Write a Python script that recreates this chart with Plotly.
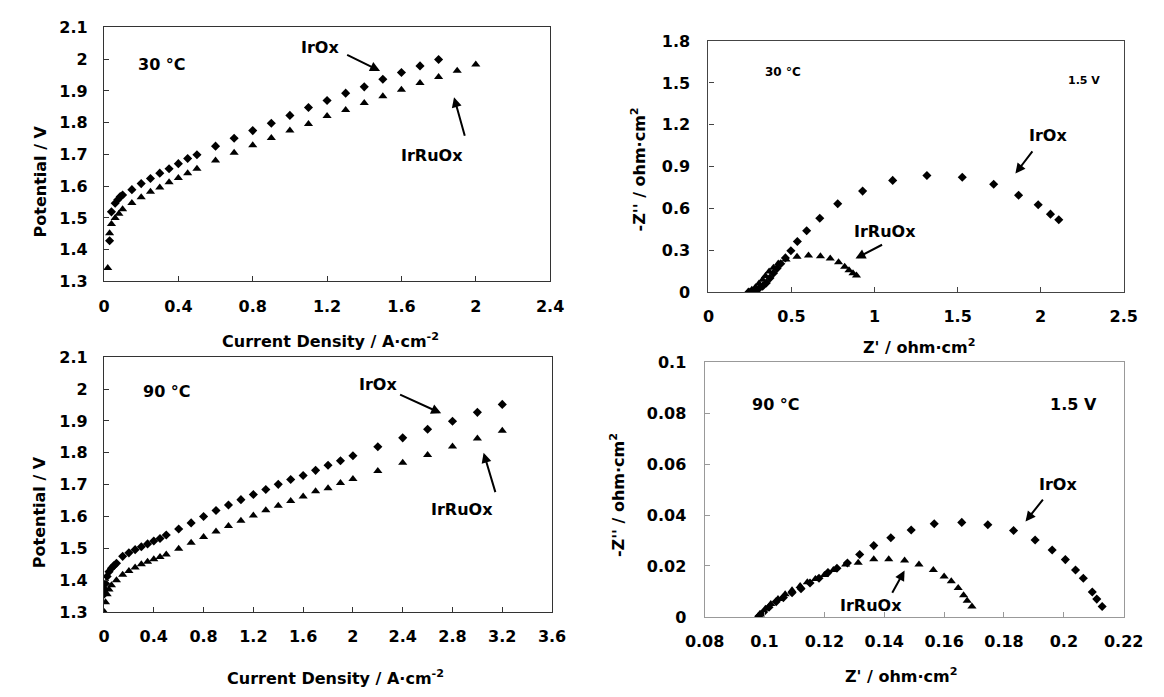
import plotly.graph_objects as go

# ---- Polarization curves, 30 °C ----
j30_irox = [0.03, 0.04, 0.06, 0.074, 0.087, 0.10, 0.15, 0.2, 0.25, 0.3, 0.35, 0.4, 0.45, 0.5,
            0.6, 0.7, 0.8, 0.9, 1.0, 1.1, 1.2, 1.3, 1.4, 1.5, 1.6, 1.7, 1.8]
v30_irox = [1.428, 1.519, 1.546, 1.557, 1.567, 1.572, 1.589, 1.608, 1.624, 1.641, 1.655, 1.671, 1.687, 1.699,
            1.726, 1.751, 1.775, 1.798, 1.823, 1.848, 1.870, 1.893, 1.913, 1.937, 1.958, 1.979, 1.999]
j30_irru = [0.02, 0.03, 0.04, 0.06, 0.08, 0.10, 0.15, 0.2, 0.25, 0.3, 0.35, 0.4, 0.45, 0.5,
            0.6, 0.7, 0.8, 0.9, 1.0, 1.1, 1.2, 1.3, 1.4, 1.5, 1.6, 1.7, 1.8, 1.9, 2.0]
v30_irru = [1.342, 1.452, 1.481, 1.500, 1.513, 1.527, 1.547, 1.565, 1.582, 1.596, 1.612, 1.626, 1.641, 1.655,
            1.681, 1.705, 1.729, 1.752, 1.775, 1.796, 1.821, 1.840, 1.862, 1.883, 1.904, 1.925, 1.944, 1.964, 1.983]

# ---- Polarization curves, 90 °C ----
j90_irox = [0.0, 0.006, 0.012, 0.025, 0.04, 0.06, 0.08, 0.1, 0.15, 0.2, 0.25, 0.3, 0.35, 0.4, 0.45, 0.5,
            0.6, 0.7, 0.8, 0.9, 1.0, 1.1, 1.2, 1.3, 1.4, 1.5, 1.6, 1.7, 1.8, 1.9, 2.0,
            2.2, 2.4, 2.6, 2.8, 3.0, 3.2]
v90_irox = [1.356, 1.371, 1.390, 1.412, 1.427, 1.438, 1.446, 1.453, 1.475, 1.486, 1.496, 1.505, 1.514, 1.523, 1.531, 1.542,
            1.561, 1.580, 1.600, 1.619, 1.636, 1.653, 1.669, 1.685, 1.701, 1.716, 1.729, 1.745, 1.761, 1.775, 1.791,
            1.819, 1.847, 1.874, 1.899, 1.927, 1.952]
j90_irru = [0.003, 0.012, 0.025, 0.04, 0.06, 0.1, 0.15, 0.2, 0.25, 0.3, 0.35, 0.4, 0.45, 0.5,
            0.6, 0.7, 0.8, 0.9, 1.0, 1.1, 1.2, 1.3, 1.4, 1.5, 1.6, 1.7, 1.8, 1.9, 2.0,
            2.2, 2.4, 2.6, 2.8, 3.0, 3.2]
v90_irru = [1.300, 1.331, 1.356, 1.371, 1.384, 1.400, 1.417, 1.429, 1.440, 1.450, 1.458, 1.466, 1.473, 1.481,
            1.499, 1.518, 1.536, 1.553, 1.570, 1.587, 1.603, 1.620, 1.634, 1.649, 1.663, 1.679, 1.689, 1.705, 1.718,
            1.743, 1.769, 1.793, 1.820, 1.845, 1.869]

# ---- Nyquist plots at 1.5 V, 30 °C ----
zr30_irox = [0.243, 0.261, 0.283, 0.304, 0.326, 0.348, 0.370, 0.391, 0.413, 0.435, 0.463, 0.496, 0.535,
             0.591, 0.670, 0.778, 0.928, 1.109, 1.315, 1.528, 1.717, 1.867, 1.985, 2.059, 2.109]
zi30_irox = [0.000, 0.005, 0.012, 0.026, 0.042, 0.065, 0.100, 0.135, 0.170, 0.203, 0.245, 0.296, 0.363,
             0.440, 0.529, 0.633, 0.724, 0.801, 0.836, 0.824, 0.773, 0.694, 0.626, 0.559, 0.519]
zr30_irru = [0.239, 0.261, 0.283, 0.304, 0.326, 0.343, 0.365, 0.391, 0.420, 0.467, 0.533, 0.602,
             0.674, 0.733, 0.783, 0.820, 0.846, 0.870, 0.891]
zi30_irru = [0.002, 0.016, 0.035, 0.061, 0.088, 0.116, 0.147, 0.175, 0.205, 0.233, 0.254, 0.263,
             0.256, 0.240, 0.214, 0.182, 0.156, 0.135, 0.119]

# ---- Nyquist plots at 1.5 V, 90 °C ----
zr90_irox = [0.0981, 0.0997, 0.1015, 0.1039, 0.1063, 0.1092, 0.1122, 0.1152, 0.1182, 0.1212, 0.1242, 0.1277,
             0.1318, 0.1365, 0.1422, 0.1490, 0.1567, 0.1659, 0.1746, 0.1832, 0.1904, 0.1961, 0.2005,
             0.2039, 0.2065, 0.2095, 0.2110, 0.2128]
zi90_irox = [0.0003, 0.0019, 0.0038, 0.0060, 0.0076, 0.0095, 0.0111, 0.0133, 0.0152, 0.0174, 0.0191, 0.0212,
             0.0245, 0.0280, 0.0311, 0.0341, 0.0366, 0.0371, 0.0362, 0.0339, 0.0302, 0.0263, 0.0225,
             0.0184, 0.0152, 0.0098, 0.0070, 0.0041]
zr90_irru = [0.0979, 0.0985, 0.1003, 0.1021, 0.1045, 0.1069, 0.1092, 0.1119, 0.1143, 0.1170, 0.1200, 0.1230,
             0.1271, 0.1313, 0.1365, 0.1415, 0.1468, 0.1516, 0.1564, 0.1600, 0.1624, 0.1647, 0.1665, 0.1677, 0.1693]
zi90_irru = [0.0003, 0.0013, 0.0032, 0.0051, 0.0070, 0.0089, 0.0105, 0.0121, 0.0136, 0.0149, 0.0165, 0.0184,
             0.0206, 0.0213, 0.0226, 0.0226, 0.0222, 0.0206, 0.0184, 0.0159, 0.0140, 0.0114, 0.0085, 0.0064, 0.0041]

FONT = "DejaVu Sans"
W, H = 1164, 697

fig = go.Figure()


def add_pair(xa, ya, x1, y1, x2, y2):
    fig.add_trace(go.Scatter(x=x1, y=y1, mode="markers", xaxis=xa, yaxis=ya, name="IrOx",
                             marker=dict(symbol="diamond", size=7, color="black")))
    fig.add_trace(go.Scatter(x=x2, y=y2, mode="markers", xaxis=xa, yaxis=ya, name="IrRuOx",
                             marker=dict(symbol="triangle-up", size=8, color="black")))


add_pair("x", "y", j30_irox, v30_irox, j30_irru, v30_irru)
add_pair("x2", "y2", zr30_irox, zi30_irox, zr30_irru, zi30_irru)
add_pair("x3", "y3", j90_irox, v90_irox, j90_irru, v90_irru)
add_pair("x4", "y4", zr90_irox, zi90_irox, zr90_irru, zi90_irru)


def px_x(p):
    return p / W


def px_y(p):
    return 1 - p / H


def axis(dom, rng, t0, dt, anchor, color, standoff):
    return dict(domain=dom, range=rng, tick0=t0, dtick=dt, anchor=anchor,
                showgrid=False, zeroline=False, showline=True, mirror=True,
                linecolor=color, linewidth=1.3, ticks="inside", ticklen=5, tickcolor=color,
                tickwidth=1, ticklabelstandoff=standoff,
                tickfont=dict(family=FONT, size=16, color="black", weight="bold"))


fig.update_layout(
    xaxis=axis([px_x(87), px_x(549)], [0, 2.4], 0, 0.4, "y", "#333333", 10),
    yaxis=axis([px_y(280), px_y(19)], [1.3, 2.1], 1.3, 0.1, "x", "#333333", 12),
    xaxis2=axis([px_x(713), px_x(1143)], [0, 2.5], 0, 0.5, "y2", "#444444", 10),
    yaxis2=axis([px_y(291), px_y(33)], [0, 1.8], 0, 0.3, "x2", "#444444", 14),
    xaxis3=axis([px_x(87), px_x(551)], [0, 3.6], 0, 0.4, "y3", "#333333", 10),
    yaxis3=axis([px_y(620), px_y(358)], [1.3, 2.1], 1.3, 0.1, "x3", "#333333", 12),
    xaxis4=axis([px_x(709), px_x(1143)], [0.08, 0.22], 0.08, 0.02, "y4", "#999999", 10),
    yaxis4=axis([px_y(625), px_y(363)], [0, 0.1], 0, 0.02, "x4", "#999999", 14),
    width=W, height=H, margin=dict(l=0, r=0, t=0, b=0),
    paper_bgcolor="white", plot_bgcolor="white", showlegend=False,
)

ann = []


def label(text, x, y, xr, yr, size=16):
    ann.append(dict(text=text, x=x, y=y, xref=xr, yref=yr, showarrow=False,
                    xanchor="center", yanchor="middle",
                    font=dict(family=FONT, size=size, color="black", weight="bold")))


def arrow(x, y, ax, ay, xr, yr):
    # pointer from the tail (ax, ay) to the head (x, y)
    ann.append(dict(text="", x=x, y=y, ax=ax, ay=ay, xref=xr, yref=yr, axref=xr, ayref=yr,
                    showarrow=True, arrowhead=2, arrowsize=1, arrowwidth=2, arrowcolor="black"))


def title(text, xp, yp, angle=0):
    ann.append(dict(text=text, x=px_x(xp), y=px_y(yp), xref="paper", yref="paper", showarrow=False,
                    xanchor="center", yanchor="middle", textangle=angle,
                    font=dict(family=FONT, size=16, color="black", weight="bold")))


# 30 °C polarization
label("30 °C", 0.31, 1.983, "x", "y")
label("IrOx", 1.16, 2.038, "x", "y")
arrow(1.485, 1.963, 1.30, 2.016, "x", "y")
label("IrRuOx", 1.764, 1.698, "x", "y")
arrow(1.883, 1.880, 1.943, 1.754, "x", "y")

# 30 °C impedance
label("30 °C", 0.446, 1.579, "x2", "y2", size=12)
label("1.5 V", 2.261, 1.521, "x2", "y2", size=11)
label("IrOx", 2.043, 1.125, "x2", "y2")
arrow(1.848, 0.85, 1.957, 1.02, "x2", "y2")
label("IrRuOx", 1.061, 0.431, "x2", "y2")
arrow(0.885, 0.24, 1.054, 0.345, "x2", "y2")

# 90 °C polarization
label("90 °C", 0.505, 1.993, "x3", "y3")
label("IrOx", 2.204, 2.014, "x3", "y3")
arrow(2.709, 1.924, 2.367, 1.985, "x3", "y3")
label("IrRuOx", 2.878, 1.621, "x3", "y3")
arrow(3.05, 1.80, 3.148, 1.672, "x3", "y3")

# 90 °C impedance
label("90 °C", 0.1039, 0.0832, "x4", "y4")
label("1.5 V", 0.2033, 0.0832, "x4", "y4")
label("IrOx", 0.1982, 0.0518, "x4", "y4")
arrow(0.1872, 0.0375, 0.1934, 0.0466, "x4", "y4")
label("IrRuOx", 0.1357, 0.0044, "x4", "y4")
arrow(0.1468, 0.0182, 0.1424, 0.0089, "x4", "y4")

# Axis titles
title("Current Density / A·cm<sup>-2</sup>", 322, 341)
title("Potential / V", 21, 177, -90)
title("Z' / ohm·cm<sup>2</sup>", 931, 347)
title("-Z'' / ohm·cm<sup>2</sup>", 641, 165, -90)
title("Current Density / A·cm<sup>-2</sup>", 327, 687)
title("Potential / V", 21, 517, -90)
title("Z' / ohm·cm<sup>2</sup>", 913, 685)
title("-Z'' / ohm·cm<sup>2</sup>", 619, 500, -90)

fig.update_layout(annotations=ann)
fig.write_html("out.html")
